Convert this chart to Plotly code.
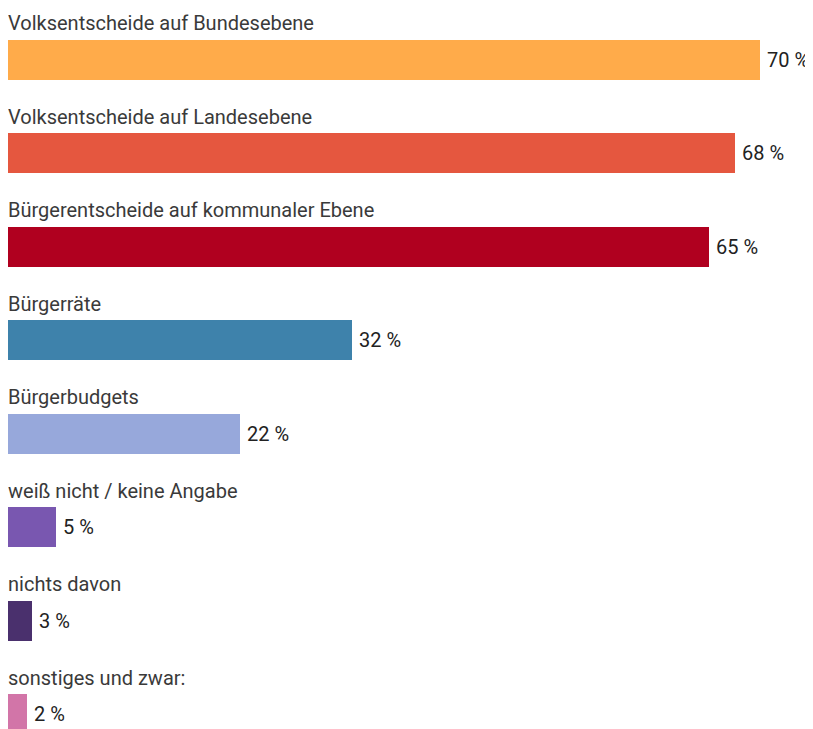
import plotly.graph_objects as go

categories = [
    "Volksentscheide auf Bundesebene",
    "Volksentscheide auf Landesebene",
    "Bürgerentscheide auf kommunaler Ebene",
    "Bürgerräte",
    "Bürgerbudgets",
    "weiß nicht / keine Angabe",
    "nichts davon",
    "sonstiges und zwar:",
]
values = [70, 67.7, 65.3, 32, 21.6, 4.5, 2.2, 1.8]
value_labels = ["70 %", "68 %", "65 %", "32 %", "22 %", "5 %", "3 %", "2 %"]
colors = ["#FFAB4A", "#E5573F", "#B0001F", "#3E82AB", "#97A8DB", "#7957B0", "#4A306D", "#D275A8"]

rows = list(range(len(categories)))

fig = go.Figure(go.Bar(
    x=values, y=rows, orientation="h", width=0.428,
    marker=dict(color=colors, line=dict(width=0)),
    hoverinfo="skip",
))

ann = []
for i, (c, v, lab) in enumerate(zip(categories, values, value_labels)):
    ann.append(dict(x=0, y=i - 0.39, xref="x", yref="y", text=c, showarrow=False,
                    xanchor="left", yanchor="middle", xshift=-2,
                    font=dict(family="Roboto", size=20, color="#3a3a3a")))
    ann.append(dict(x=v, y=i, xref="x", yref="y", text=lab, showarrow=False,
                    xanchor="left", yanchor="middle", xshift=5,
                    font=dict(family="Roboto", size=20, color="#222222")))

fig.update_layout(
    width=805, height=721,
    margin=dict(l=0, r=0, t=0, b=0),
    paper_bgcolor="white", plot_bgcolor="white",
    showlegend=False,
    bargap=0,
    xaxis=dict(range=[0, 74.95], visible=False, fixedrange=True),
    yaxis=dict(range=[7.160, -0.551], visible=False, fixedrange=True),
    annotations=ann,
)

fig.write_html("out.html")
